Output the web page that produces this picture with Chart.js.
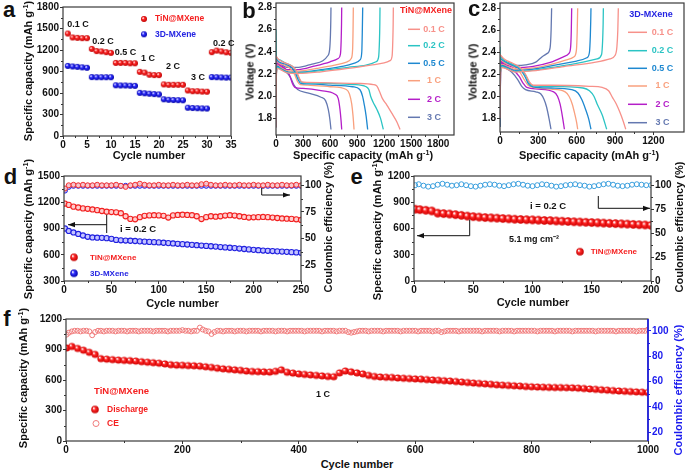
<!DOCTYPE html>
<html><head><meta charset="utf-8">
<script src="https://cdn.jsdelivr.net/npm/chart.js@4.4.1/dist/chart.umd.min.js"></script>
<style>
html,body{margin:0;padding:0;background:#fff;}
body{width:685px;height:475px;position:relative;overflow:hidden;font-family:"Liberation Sans",Arial,sans-serif;}
canvas{position:absolute;}
.t{position:absolute;white-space:nowrap;font-weight:bold;color:#111;transform:translate(-50%,-50%);line-height:1;}
.v{transform:translate(-50%,-50%) rotate(-90deg);}
sup{font-size:0.65em;vertical-align:0.5em;line-height:0;}
</style></head><body>
<script>
const FONT = '"Liberation Sans", Arial, sans-serif';
const RED = '#F52020', BLUE = '#2424E2';

// ---------- Panel a: rate capability ----------
const aCycles = [1,2,3,4,5,6,7,8,9,10,11,12,13,14,15,16,17,18,19,20,21,22,23,24,25,26,27,28,29,30,31,32,33,34,35];
const aTiN = [1430,1375,1370,1365,1365, 1215,1185,1180,1170,1160, 1020,1020,1020,1015,1015, 895,885,855,850,850, 720,715,715,715,715, 635,625,625,620,618, 1170,1192,1180,1168,1160];
const aMX  = [978,970,965,958,952, 822,820,820,820,820, 708,705,705,702,700, 602,596,590,585,580, 512,505,502,500,498, 395,390,388,385,383, 822,820,818,815,815];
const aXTicks = [0,5,10,15,20,25,30,35];
const aYTicks = [0,300,600,900,1200,1500,1800];

// ---------- Panel b: TiN@MXene voltage profiles [capacity, voltage] ----------
const b01Dis = [[0,2.36],[30,2.33],[100,2.30],[180,2.27],[225,2.23],[255,2.17],[285,2.13],[350,2.125],[600,2.12],[900,2.115],[1080,2.105],[1120,2.09],[1150,2.04],[1180,1.98],[1230,1.92],[1290,1.84],[1340,1.77],[1376,1.70]];
const b01Ch  = [[0,1.72],[4,2.18],[15,2.25],[50,2.24],[120,2.21],[250,2.205],[500,2.22],[800,2.25],[1050,2.28],[1200,2.30],[1265,2.32],[1288,2.36],[1296,2.5],[1300,2.65],[1302,2.8]];
const b02Dis = [[0,2.6],[3,2.36],[30,2.33],[100,2.30],[180,2.27],[225,2.22],[255,2.16],[285,2.125],[350,2.12],[600,2.115],[850,2.105],[1000,2.085],[1030,2.06],[1050,2.0],[1075,1.95],[1120,1.88],[1160,1.80],[1191,1.70]];
const b02Ch  = [[0,1.90],[4,2.2],[15,2.26],[50,2.245],[120,2.215],[250,2.21],[500,2.23],[800,2.26],[1000,2.28],[1110,2.31],[1138,2.35],[1148,2.5],[1152,2.65],[1154,2.8]];
const b05Dis = [[0,2.34],[30,2.31],[100,2.29],[170,2.26],[215,2.21],[245,2.15],[275,2.115],[350,2.11],[600,2.10],[850,2.085],[930,2.06],[960,2.0],[980,1.92],[1000,1.82],[1017,1.70]];
const b05Ch  = [[0,1.72],[4,2.2],[15,2.27],[50,2.25],[120,2.22],[250,2.215],[500,2.24],[750,2.27],[880,2.30],[935,2.33],[952,2.4],[958,2.6],[962,2.8]];
const b1Dis  = [[0,2.33],[30,2.30],[100,2.28],[170,2.24],[210,2.19],[240,2.13],[270,2.105],[350,2.10],[600,2.085],[780,2.06],[815,2.02],[840,1.93],[855,1.82],[866,1.70]];
const b1Ch   = [[0,1.72],[4,2.21],[15,2.28],[50,2.26],[120,2.23],[250,2.225],[450,2.25],[650,2.28],[790,2.31],[835,2.34],[850,2.42],[855,2.6],[858,2.8]];
const b2Dis  = [[0,2.32],[30,2.29],[100,2.25],[150,2.19],[180,2.12],[210,2.08],[300,2.07],[500,2.05],[650,2.02],[690,1.98],[710,1.88],[722,1.78],[729,1.70]];
const b2Ch   = [[0,1.72],[4,2.22],[15,2.29],[50,2.27],[120,2.24],[250,2.24],[420,2.27],[600,2.31],[690,2.34],[715,2.38],[723,2.5],[727,2.65],[729,2.8]];
const b3Dis  = [[0,2.30],[30,2.27],[100,2.23],[160,2.17],[200,2.10],[240,2.06],[350,2.03],[500,1.99],[550,1.96],[580,1.88],[598,1.79],[610,1.70]];
const b3Ch   = [[0,1.72],[4,2.23],[15,2.30],[50,2.29],[120,2.26],[250,2.26],[400,2.29],[520,2.32],[570,2.36],[595,2.42],[604,2.55],[608,2.68],[610,2.8]];
const bXTicks = [0,300,600,900,1200,1500,1800];
const vTicks = [1.8,2.0,2.2,2.4,2.6,2.8];

// ---------- Panel c: 3D-MXene voltage profiles ----------
const c01Dis = [[0,2.38],[30,2.34],[100,2.30],[160,2.26],[200,2.20],[230,2.13],[260,2.10],[400,2.10],[700,2.09],[800,2.08],[850,2.05],[880,1.99],[910,1.93],[940,1.85],[965,1.77],[984,1.70]];
const c01Ch  = [[0,1.80],[4,2.2],[15,2.26],[50,2.25],[120,2.22],[250,2.23],[500,2.27],[750,2.31],[860,2.34],[900,2.37],[915,2.45],[922,2.6],[926,2.8]];
const c02Dis = [[0,2.37],[30,2.33],[100,2.29],[160,2.25],[200,2.19],[230,2.12],[260,2.095],[400,2.09],[650,2.075],[700,2.05],[735,2.0],[760,1.93],[800,1.83],[835,1.70]];
const c02Ch  = [[0,2.45],[3,2.22],[15,2.27],[50,2.255],[120,2.225],[250,2.235],[450,2.27],[650,2.31],[760,2.34],[795,2.38],[803,2.5],[807,2.65],[809,2.8]];
const c05Dis = [[0,2.35],[30,2.32],[100,2.28],[160,2.24],[195,2.18],[225,2.11],[260,2.085],[400,2.075],[560,2.06],[610,2.03],[640,1.97],[670,1.88],[695,1.79],[712,1.70]];
const c05Ch  = [[0,1.72],[4,2.21],[15,2.28],[50,2.265],[120,2.235],[250,2.245],[420,2.28],[600,2.32],[680,2.35],[700,2.40],[707,2.55],[710,2.68],[712,2.8]];
const c1Dis  = [[0,2.34],[30,2.31],[100,2.27],[155,2.22],[190,2.15],[220,2.10],[260,2.08],[400,2.065],[510,2.04],[540,2.0],[565,1.93],[585,1.84],[600,1.76],[608,1.70]];
const c1Ch   = [[0,1.72],[4,2.22],[15,2.29],[50,2.275],[120,2.245],[250,2.255],[400,2.29],[520,2.33],[580,2.36],[598,2.42],[604,2.58],[608,2.8]];
const c2Dis  = [[0,2.33],[30,2.29],[100,2.24],[150,2.18],[180,2.12],[210,2.08],[300,2.065],[420,2.04],[450,2.0],[470,1.93],[488,1.82],[504,1.70]];
const c2Ch   = [[0,1.72],[4,2.23],[15,2.30],[50,2.285],[120,2.26],[250,2.27],[400,2.31],[500,2.36],[540,2.39],[553,2.45],[558,2.6],[561,2.8]];
const c3Dis  = [[0,2.31],[30,2.27],[90,2.22],[140,2.15],[170,2.09],[200,2.06],[280,2.04],[320,2.02],[345,1.97],[365,1.90],[385,1.79],[399,1.70]];
const c3Ch   = [[0,1.72],[4,2.24],[15,2.31],[50,2.30],[120,2.28],[200,2.285],[280,2.31],[330,2.36],[370,2.39],[392,2.44],[400,2.6],[404,2.8]];
const cXTicks = [0,300,600,900,1200];
const rateLabels = ['0.1 C','0.2 C','0.5 C','1 C','2 C','3 C'];
const rateColors = ['#F7918A','#2BC4C4','#1E88D0','#F9A07E','#B41EC8','#6478B0'];

// ---------- Panel d: cycling at 0.2 C ----------
const dCycles = [1,5,10,15,20,25,30,35,40,45,50,55,60,65,70,75,80,85,90,95,100,105,110,115,120,125,130,135,140,145,150,155,160,165,170,175,180,185,190,195,200,205,210,215,220,225,230,235,240,245,250];
const dTiN = [1185,1170,1150,1140,1130,1125,1118,1110,1100,1092,
              1088,1085,1075,1040,1010,1005,1030,1045,1050,1052,
              1050,1045,1025,1050,1055,1058,1055,1052,1040,1008,
              1030,1040,1035,1040,1048,1052,1048,1040,1032,1025,
              1028,1030,1032,1030,1025,1020,1015,1012,1010,1005,
              998];
const dMX = [900,872,855,838,820,805,798,795,793,790,
             782,770,765,762,760,757,753,750,747,744,
             741,737,733,729,725,721,717,713,709,705,
             701,697,693,688,684,680,676,671,666,661,
             656,652,648,645,642,639,636,633,630,627,
             622];
const dCETiN = [97,100,100.5,100,100.5,100,100,100.5,100,100,
                100,100.5,99.5,98.5,100,100.5,101.5,100.5,100,100,
                100.5,100,100,100.5,100,100,100.5,100,100,101,
                101.5,100.5,100,100,100.5,100,100,100.5,100,100,
                100.5,100,100,100.5,100,100,100.5,100,100,100.5,
                100];
const dCEMX = [95,98.5,99.5,99.5,99.5,99.5,99.5,99.5,99.5,99.5,
               99.5,99.5,99.5,99.5,99.5,99.5,99.5,99.5,99.5,99.5,
               99.5,99.5,99.5,99.5,99.5,99.5,99.5,99.5,99.5,99.5,
               99.5,99.5,99.5,99.5,99.5,99.5,99.5,99.5,99.5,99.5,
               99.5,99.5,99.5,99.5,99.5,99.5,99.5,99.5,99.5,99.5,
               99.5];
const dXTicks = [0,50,100,150,200,250];
const dYTicks = [300,600,900,1200,1500];
const dY2Ticks = [25,50,75,100];

// ---------- Panel e: high loading 5.1 mg cm-2 ----------
const eCycles = [1,5,10,15,20,25,30,35,40,45,50,55,60,65,70,75,80,85,90,95,100,105,110,115,120,125,130,135,140,145,150,155,160,165,170,175,180,185,190,195,200];
const eTiN = [820,815,808,800,775,770,765,758,750,742,
              735,730,725,722,718,714,710,706,703,700,
              698,695,692,690,686,683,680,677,674,671,
              668,665,662,659,656,653,650,647,643,640,
              636];
const eCECycles = [1,4,8,12,16,20,24,28,32,36,40,44,48,52,56,60,64,68,72,76,80,84,88,92,96,100,104,108,112,116,120,124,128,132,136,140,144,148,152,156,160,164,168,172,176,180,184,188,192,196,200];
const eCE = [100,101,99.5,98.5,99,100.5,101.5,100.5,99.5,100,
             101,100,99,98.5,99.5,100.5,101,100.5,99.5,99,
             100,101,101.5,100.5,99.5,99,100,101,100.5,99.5,
             98.5,99,100,100.5,101,100,99.5,98.5,99,100,
             101,101.5,100.5,99.5,99,99.5,100.5,101,100.5,100,
             100];
const eXTicks = [0,50,100,150,200];
const eYTicks = [0,300,600,900,1200];
const eY2Ticks = [0,25,50,75,100];

// ---------- Panel f: long cycling at 1 C ----------
const fCycles = [1,10,20,30,40,50,60,70,80,90,100,110,120,130,140,150,160,170,180,190,200,210,220,230,240,250,260,270,280,290,300,310,320,330,340,350,360,370,380,390,400,410,420,430,440,450,460,470,480,490,500,510,520,530,540,550,560,570,580,590,600,610,620,630,640,650,660,670,680,690,700,710,720,730,740,750,760,770,780,790,800,810,820,830,840,850,860,870,880,890,900,910,920,930,940,950,960,970,980,990,1000];
const fDis = [915,930,910,893,872,852,810,805,800,796,
              793,790,786,780,775,770,765,758,750,746,
              745,742,740,736,730,724,716,710,705,700,
              695,688,684,682,680,678,685,700,676,668,
              660,655,650,645,640,635,632,670,688,680,
              670,660,645,635,630,627,625,620,617,614,
              611,608,604,600,597,593,590,585,580,575,
              570,566,562,558,553,549,546,543,540,536,
              533,531,529,527,526,525,524,523,520,516,
              512,508,504,500,496,492,489,486,483,480,
              477];
const fCECycles = [1,5,10,15,20,25,30,35,40,45,50,55,60,65,70,75,80,85,90,95,
  100,105,110,115,120,125,130,135,140,145,150,155,160,165,170,175,180,185,190,195,
  200,205,210,215,220,225,230,235,240,245,250,255,260,265,270,275,280,285,290,295,
  300,305,310,315,320,325,330,335,340,345,350,355,360,365,370,375,380,385,390,395,
  400,405,410,415,420,425,430,435,440,445,450,455,460,465,470,475,480,485,490,495,
  500,505,510,515,520,525,530,535,540,545,550,555,560,565,570,575,580,585,590,595,
  600,605,610,615,620,625,630,635,640,645,650,655,660,665,670,675,680,685,690,695,
  700,705,710,715,720,725,730,735,740,745,750,755,760,765,770,775,780,785,790,795,
  800,805,810,815,820,825,830,835,840,845,850,855,860,865,870,875,880,885,890,895,
  900,905,910,915,920,925,930,935,940,945,950,955,960,965,970,975,980,985,990,995,
  1000];
const fCE = [97,98.5,99.5,100,100,99.5,100,100,99.5,96.5,99,100,100,99.5,100,100,100,99.5,100,100,
  100,99.5,100,100,100,99.5,100,100,100,100,99.5,100,100,100,100,99.5,100,100,100,100,
  100.5,100,100,99.5,100,100,102.5,101,100,99.5,97.5,99,100,100,99.5,100,100,100,99.5,100,
  100,100,99.5,100,100,100,100,99.5,100,100,100,100,99.5,100,100,100,99.5,100,100,100,
  100,100,99.5,100,100,100,100,100,99.5,100,100,100,100,99.5,100,100,100,99,98.5,99,
  99.5,100,100,100,99.5,100,100,100,100,99.5,100,100,100,100,100,99.5,100,100,100,100,
  100,99.5,100,100,100,100,99.5,100,100,99,99.5,100,100,100,100,99.5,100,100,100,100,
  100,100,100,99.5,100,100,100,100,100,99.5,100,100,100,100,99.5,100,100,100,100,100,
  100,100,99.5,100,100,100,100,100,99.5,100,100,100,100,100,99.5,100,100,100,100,100,
  100,100,99.5,100,100,100,100,100,100,99.5,100,100,100,100,100,100,99.5,100,100,100,
  101];
const fXTicks = [0,200,400,600,800,1000];
const fYTicks = [0,300,600,900,1200];
const fY2Ticks = [20,40,60,80,100];

// ---------- helpers ----------
Chart.defaults.font.family = FONT;
const xy = (xs, ys) => xs.map((x, i) => ({x, y: ys[i]}));
const pairs = p => p.map(([x, y]) => ({x, y}));

function ball(color, dark, r) {
  const c = document.createElement('canvas');
  const s = Math.ceil(2 * r + 2);
  c.width = s; c.height = s;
  const g = c.getContext('2d');
  const m = s / 2;
  const grd = g.createRadialGradient(m - r * 0.35, m - r * 0.35, r * 0.1, m, m, r);
  grd.addColorStop(0, '#ffffff');
  grd.addColorStop(0.35, color);
  grd.addColorStop(1, dark);
  g.fillStyle = grd;
  g.beginPath(); g.arc(m, m, r, 0, Math.PI * 2); g.fill();
  return c;
}
const ballRedA = ball('#FF2A2A', '#C00000', 3.0);
const ballBlueA = ball('#3030FF', '#0000A8', 3.0);
const ballRedL = ball('#FF2A2A', '#C00000', 3.8);
const ballBlueL = ball('#3030FF', '#0000A8', 3.8);
const ballRedE = ball('#FF2626', '#D00000', 4.2);
const ballRedF = ball('#FF2626', '#D00000', 3.6);

function lin(min, max, ticks, pos, opts = {}) {
  const col = opts.color || '#111';
  return {
    type: 'linear', position: pos, min, max,
    afterBuildTicks: s => { s.ticks = ticks.map(v => ({value: v})); },
    ticks: {autoSkip: false, maxRotation: 0, padding: pos === 'bottom' ? 0 : 1, color: col,
      font: {family: FONT, size: 10, weight: 'bold'}, callback: opts.fmt || (v => String(v))},
    grid: {display: true, drawOnChartArea: false, drawTicks: true, tickLength: 3, color: opts.tick || '#333', lineWidth: 1},
    border: {display: false}
  };
}

function decoPlugin(items, ox, oy, frame) {
  return {
    id: 'deco',
    afterDraw(chart) {
      const ctx = chart.ctx, ca = chart.chartArea;
      ctx.save();
      // minor ticks at midpoints
      Object.values(chart.scales).forEach(sc => {
        const tk = sc.ticks.map(t => t.value);
        const col = sc.options.grid.color;
        ctx.strokeStyle = col; ctx.lineWidth = 1;
        for (let i = 0; i < tk.length - 1; i++) {
          const v = (tk[i] + tk[i + 1]) / 2;
          const p = Math.round(sc.getPixelForValue(v)) + 0.5;
          ctx.beginPath();
          if (sc.position === 'bottom') { ctx.moveTo(p, ca.bottom); ctx.lineTo(p, ca.bottom + 2); }
          else if (sc.position === 'left') { ctx.moveTo(ca.left, p); ctx.lineTo(ca.left - 2, p); }
          else { ctx.moveTo(ca.right, p); ctx.lineTo(ca.right + 2, p); }
          ctx.stroke();
        }
      });
      ctx.lineWidth = 1.2; ctx.strokeStyle = '#3a3a3a';
      ctx.strokeRect(ca.left, ca.top, ca.right - ca.left, ca.bottom - ca.top);
      if (frame && frame.right) {
        ctx.strokeStyle = frame.right; ctx.lineWidth = 1.6;
        ctx.beginPath(); ctx.moveTo(ca.right, ca.top); ctx.lineTo(ca.right, ca.bottom); ctx.stroke();
      }
      ctx.translate(-ox, -oy);
      for (const it of items) {
        if (it.t === 'text') {
          ctx.font = 'bold ' + (it.s || 10) + 'px ' + FONT;
          ctx.fillStyle = it.c || '#111';
          ctx.textAlign = it.a || 'center'; ctx.textBaseline = 'middle';
          ctx.fillText(it.txt, it.x, it.y);
        } else if (it.t === 'line') {
          ctx.strokeStyle = it.c || '#111'; ctx.lineWidth = it.w || 1;
          ctx.beginPath(); ctx.moveTo(it.x1, it.y1); ctx.lineTo(it.x2, it.y2); ctx.stroke();
        } else if (it.t === 'img') {
          ctx.drawImage(it.img, it.x - it.img.width / 2, it.y - it.img.height / 2);
        } else if (it.t === 'dot') {
          ctx.beginPath(); ctx.arc(it.x, it.y, it.r, 0, Math.PI * 2);
          if (it.f) { ctx.fillStyle = it.f; ctx.fill(); }
          if (it.sc) { ctx.strokeStyle = it.sc; ctx.lineWidth = it.w || 1; ctx.stroke(); }
        } else if (it.t === 'arrow') {
          const [x1, y1] = it.p[0], [x2, y2] = it.p[1];
          ctx.strokeStyle = it.c || '#111'; ctx.fillStyle = it.c || '#111'; ctx.lineWidth = 1;
          ctx.beginPath(); ctx.moveTo(x1, y1); ctx.lineTo(x2, y2); ctx.stroke();
          const a = Math.atan2(y2 - y1, x2 - x1), L = 7, W = 2.6;
          ctx.beginPath();
          ctx.moveTo(x2, y2);
          ctx.lineTo(x2 - L * Math.cos(a) + W * Math.sin(a), y2 - L * Math.sin(a) - W * Math.cos(a));
          ctx.lineTo(x2 - L * Math.cos(a) - W * Math.sin(a), y2 - L * Math.sin(a) + W * Math.cos(a));
          ctx.closePath(); ctx.fill();
        }
      }
      ctx.restore();
    }
  };
}

function mk(P, datasets, scales, items, frame) {
  const cv = document.createElement('canvas');
  const left = P.L - P.lw, top = P.T - P.pt;
  const w = P.lw + (P.R - P.L) + P.rw, h = P.pt + (P.B - P.T) + P.bh;
  cv.width = w; cv.height = h;
  cv.style.left = left + 'px'; cv.style.top = top + 'px';
  cv.style.width = w + 'px'; cv.style.height = h + 'px';
  document.body.appendChild(cv);
  const hasRight = !!scales.y2;
  scales.x.afterFit = s => { s.height = P.bh; };
  scales.y.afterFit = s => { s.width = P.lw; };
  if (hasRight) scales.y2.afterFit = s => { s.width = P.rw; };
  new Chart(cv, {
    type: 'scatter',
    data: {datasets},
    options: {
      responsive: false, animation: false, devicePixelRatio: 1, events: [],
      layout: {padding: {left: 0, top: P.pt, right: hasRight ? 0 : P.rw, bottom: 0}},
      scales,
      plugins: {legend: {display: false}, tooltip: {enabled: false}}
    },
    plugins: [decoPlugin(items, left, top, frame)]
  });
}

function txt(s, x, y, size, cls, color) {
  const d = document.createElement('div');
  d.className = 't' + (cls ? ' ' + cls : '');
  d.style.left = x + 'px'; d.style.top = y + 'px';
  d.style.fontSize = size + 'px';
  if (color) d.style.color = color;
  d.innerHTML = s;
  document.body.appendChild(d);
}

const CAP = 'Specific capacity (mAh g<sup>-1</sup>)';
const CE_T = 'Coulombic efficiency (%)';

// ---------- a ----------
mk({L:63,T:7,R:231,B:136,lw:30,rw:14,bh:16,pt:9},
  [
    {data: xy(aCycles, aTiN), pointStyle: ballRedA},
    {data: xy(aCycles, aMX), pointStyle: ballBlueA}
  ],
  {x: lin(0, 35, aXTicks, 'bottom'), y: lin(0, 1800, aYTicks, 'left')},
  [
    {t:'text', txt:'0.1 C', x:78, y:25, s:9},
    {t:'text', txt:'0.2 C', x:103, y:41.5, s:9},
    {t:'text', txt:'0.5 C', x:125.5, y:52.5, s:9},
    {t:'text', txt:'1 C', x:148, y:58.5, s:9},
    {t:'text', txt:'2 C', x:173, y:67, s:9},
    {t:'text', txt:'3 C', x:198, y:77.5, s:9},
    {t:'text', txt:'0.2 C', x:213, y:43.5, s:9, a:'left'},
    {t:'img', img: ballRedA, x:144, y:19},
    {t:'text', txt:'TiN@MXene', x:155, y:19, s:8.5, a:'left', c:RED},
    {t:'img', img: ballBlueA, x:144, y:34.3},
    {t:'text', txt:'3D-MXene', x:155, y:34.3, s:8.5, a:'left', c:BLUE}
  ]);

// ---------- b ----------
function curveSets(list) {
  const out = [];
  list.forEach(([dis, ch], i) => {
    [dis, ch].forEach(c => out.push({data: pairs(c), showLine: true, pointRadius: 0, borderColor: rateColors[i],
      borderWidth: 1.3, cubicInterpolationMode: 'monotone'}));
  });
  return out;
}
function rateLegend(x1, x2, xt, ys) {
  const it = [];
  ys.forEach((y, i) => {
    it.push({t:'line', x1, y1:y, x2, y2:y, c:rateColors[i], w:1.5});
    it.push({t:'text', txt:rateLabels[i], x:xt, y, s:9, c:rateColors[i]});
  });
  return it;
}
mk({L:276,T:3,R:454,B:135,lw:28,rw:12,bh:16,pt:9},
  curveSets([[b01Dis,b01Ch],[b02Dis,b02Ch],[b05Dis,b05Ch],[b1Dis,b1Ch],[b2Dis,b2Ch],[b3Dis,b3Ch]]),
  {x: lin(0, 1975, bXTicks, 'bottom'), y: lin(1.65, 2.84, vTicks, 'left', {fmt: v => v.toFixed(1)})},
  [{t:'text', txt:'TiN@MXene', x:426, y:11, s:9, c:RED}].concat(
    rateLegend(408, 420, 434, [29.3, 45.7, 63.3, 80.7, 99.3, 117.3])));

// ---------- c ----------
mk({L:500,T:3,R:684,B:132,lw:28,rw:12,bh:16,pt:9},
  curveSets([[c01Dis,c01Ch],[c02Dis,c02Ch],[c05Dis,c05Ch],[c1Dis,c1Ch],[c2Dis,c2Ch],[c3Dis,c3Ch]]),
  {x: lin(0, 1440, cXTicks, 'bottom'), y: lin(1.675, 2.848, vTicks, 'left', {fmt: v => v.toFixed(1)})},
  [{t:'text', txt:'3D-MXene', x:651, y:15, s:9, c:BLUE}].concat(
    rateLegend(628, 647, 662.5, [32.3, 50.7, 68.3, 86, 104.3, 122.7])));

// ---------- d ----------
mk({L:64,T:176,R:301,B:281,lw:30,rw:26,bh:16,pt:9},
  [
    {data: xy(dCycles, dCETiN), yAxisID: 'y2', pointRadius: 2.5, pointBackgroundColor: 'rgba(255,200,200,0.9)', pointBorderColor: '#F23030', pointBorderWidth: 1},
    {data: xy(dCycles, dCEMX), yAxisID: 'y2', pointRadius: 2.5, pointBackgroundColor: 'rgba(190,190,255,0.9)', pointBorderColor: '#2020E0', pointBorderWidth: 1},
    {data: xy(dCycles, dTiN), pointRadius: 2.6, pointBackgroundColor: 'rgba(255,200,200,0.9)', pointBorderColor: '#F22020', pointBorderWidth: 1.1},
    {data: xy(dCycles, dMX), pointRadius: 2.6, pointBackgroundColor: 'rgba(190,190,255,0.9)', pointBorderColor: '#2020E0', pointBorderWidth: 1.1}
  ],
  {x: lin(0, 250, dXTicks, 'bottom'), y: lin(300, 1500, dYTicks, 'left'), y2: lin(10.3, 108.7, dY2Ticks, 'right')},
  [
    {t:'line', x1:106.7, y1:214.7, x2:106.7, y2:233},
    {t:'arrow', p:[[106.7,224.7],[68,224.7]]},
    {t:'line', x1:261.7, y1:188, x2:261.7, y2:195},
    {t:'arrow', p:[[261.7,195],[290,195]]},
    {t:'text', txt:'i = 0.2 C', x:138, y:229, s:9.5},
    {t:'img', img: ballRedL, x:74, y:257.3},
    {t:'text', txt:'TiN@MXene', x:90, y:257.3, s:8, a:'left', c:RED},
    {t:'img', img: ballBlueL, x:74, y:273.3},
    {t:'text', txt:'3D-MXene', x:90, y:273.3, s:8, a:'left', c:BLUE}
  ]);

// ---------- e ----------
mk({L:414,T:176,R:651,B:281,lw:30,rw:26,bh:16,pt:9},
  [
    {data: xy(eCECycles, eCE), yAxisID: 'y2', pointRadius: 2.5, pointBackgroundColor: 'rgba(255,255,255,0)', pointBorderColor: '#3A9FDD', pointBorderWidth: 1},
    {data: xy(eCycles, eTiN), pointStyle: ballRedE}
  ],
  {x: lin(0, 200, eXTicks, 'bottom'), y: lin(0, 1200, eYTicks, 'left'), y2: lin(0, 109.6, eY2Ticks, 'right')},
  [
    {t:'line', x1:469.7, y1:219.7, x2:469.7, y2:235.7},
    {t:'arrow', p:[[469.7,235.7],[417,235.7]]},
    {t:'line', x1:598.3, y1:196, x2:598.3, y2:208.3},
    {t:'arrow', p:[[598.3,208.3],[650,208.3]]},
    {t:'text', txt:'i = 0.2 C', x:548, y:206.7, s:9.5},
    {t:'text', txt:'5.1 mg cm\u207B\u00B2', x:534, y:240, s:9},
    {t:'img', img: ballRedL, x:580, y:251.7},
    {t:'text', txt:'TiN@MXene', x:590.7, y:251.7, s:8, a:'left', c:RED}
  ]);

// ---------- f ----------
const FB = '#1A1AEE';
mk({L:66,T:319,R:648,B:441,lw:30,rw:26,bh:16,pt:9},
  [
    {data: xy(fCECycles, fCE), yAxisID: 'y2', pointRadius: 2.5, pointBackgroundColor: 'rgba(255,255,255,0)', pointBorderColor: '#F07A7A', pointBorderWidth: 1},
    {data: xy(fCycles, fDis), pointStyle: ballRedF}
  ],
  {x: lin(0, 1000, fXTicks, 'bottom'), y: lin(0, 1200, fYTicks, 'left'), y2: lin(13, 109.3, fY2Ticks, 'right', {color: FB, tick: FB})},
  [
    {t:'text', txt:'TiN@MXene', x:94, y:391.7, s:9.5, a:'left', c:RED},
    {t:'img', img: ballRedL, x:95, y:409.5},
    {t:'text', txt:'Discharge', x:107, y:409.5, s:8.5, a:'left', c:RED},
    {t:'dot', x:96, y:423.5, r:3, sc:'#F07A7A', w:1},
    {t:'text', txt:'CE', x:107, y:423.5, s:8.5, a:'left', c:RED},
    {t:'text', txt:'1 C', x:323, y:394.3, s:9}
  ],
  {right: FB});

// ---------- panel letters & axis titles ----------
txt('a', 9, 10, 22); txt('b', 249, 11, 22); txt('c', 474, 9, 22);
txt('d', 10.5, 177, 22); txt('e', 356.5, 177, 22); txt('f', 7, 319, 22);
txt(CAP, 28, 71, 11, 'v'); txt('Cycle number', 149, 155, 11);
txt('Voltage (V)', 250, 72, 11, 'v'); txt(CAP, 363, 155, 11);
txt('Voltage (V)', 473, 72, 11, 'v'); txt(CAP, 589, 155, 11);
txt(CAP, 28, 229, 11, 'v'); txt(CE_T, 328, 227, 11, 'v'); txt('Cycle number', 182.5, 303, 11);
txt(CAP, 377, 230, 11, 'v'); txt(CE_T, 679, 227, 11, 'v'); txt('Cycle number', 533, 302, 11);
txt(CAP, 23, 378, 11, 'v'); txt(CE_T, 678, 390, 11, 'v', FB); txt('Cycle number', 357, 464, 11);
</script>
</body></html>
